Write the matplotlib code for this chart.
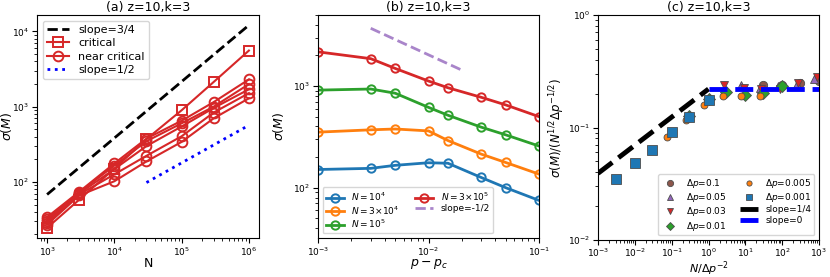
import numpy as np
import matplotlib
matplotlib.use('Agg')
import matplotlib.pyplot as plt

# (a) sigma(M) vs N
N_a = [1e3, 3e3, 1e4, 3e4, 1e5, 3e5, 1e6]
crit = [24.5, 58, 150, 370, 895, 2130, 5560]
near = [
    [34, 74, 176, 376, 650, 1150, 2300],
    [32, 72, 165, 347, 600, 1000, 1990],
    [30, 70, 148, 299, 545, 960, 1700],
    [28, 68, 126, 222, 404, 835, 1510],
    [27, 66, 102, 187, 340, 700, 1290],
]
slope34_x = [1e3, 1e6]
slope34_y = [68, 12100]
slope12_x = [3e4, 1e6]
slope12_y = [98, 566]

# (b) sigma(M) vs p - p_c
dp_b = [1e-3, 3e-3, 5e-3, 1e-2, 1.5e-2, 3e-2, 5e-2, 1e-1]
sig_b = {
    r'$N=10^4$': [151, 155, 166, 176, 174, 126, 100, 75],
    r'$N=3{\times}10^4$': [352, 371, 378, 362, 291, 214, 177, 136],
    r'$N=10^5$': [912, 935, 850, 617, 516, 394, 331, 257],
    r'$N=3{\times}10^5$': [2170, 1860, 1490, 1120, 962, 775, 652, 500],
}
slope_b_x = [3e-3, 2e-2]
slope_b_y = [3700, 1435]

# (c) scaling collapse
N_c = [3e3, 1e4, 3e4, 1e5, 3e5, 1e6]
dps = [0.1, 0.05, 0.03, 0.01, 0.005, 0.001]
y_c = {
    0.1: [0.240, 0.237, 0.248, 0.257],
    0.05: [0.240, 0.224, 0.232, 0.245, 0.270],
    0.03: [0.237, 0.224, 0.220, 0.222, 0.248, 0.280],
    0.01: [0.127, 0.180, 0.206, 0.196, 0.203, 0.232],
    0.005: [0.0827, 0.116, 0.157, 0.190, 0.192, 0.192],
    0.001: [0.0349, 0.0486, 0.0635, 0.0903, 0.125, 0.175],
}
markers_c = {0.1: 'o', 0.05: '^', 0.03: 'v', 0.01: 'D', 0.005: 'o', 0.001: 's'}
colors_c = {0.1: 'C5', 0.05: 'C4', 0.03: 'C3', 0.01: 'C2', 0.005: 'C1', 0.001: 'C0'}
sizes_c = {0.1: 6, 0.05: 6, 0.03: 6, 0.01: 6, 0.005: 5, 0.001: 6.5}

plt.rcParams['font.size'] = 9
plt.rcParams['xtick.labelsize'] = 6.5
plt.rcParams['ytick.labelsize'] = 6.5
plt.rcParams['xtick.major.pad'] = 2
plt.rcParams['ytick.major.pad'] = 2
plt.rcParams['axes.labelsize'] = 9
fig = plt.figure(figsize=(8.3, 2.77), dpi=100)
W, H = 830.0, 277.0
def box(l, r, t, b):
    return [l / W, (H - b) / H, (r - l) / W, (b - t) / H]

ax_a = fig.add_axes(box(37, 259, 15, 238))
ax_b = fig.add_axes(box(318, 539, 15, 238))
ax_c = fig.add_axes(box(598, 819, 15, 240))

# panel a
ax_a.plot(slope34_x, slope34_y, 'k--', lw=2, label='slope=3/4')
ax_a.plot(N_a, crit, '-s', color='C3', mfc='none', ms=7, mew=1.4, lw=1.5, label='critical')
for i, row in enumerate(near):
    ax_a.plot(N_a, row, '-o', color='C3', mfc='none', ms=7, mew=1.4, lw=1.5,
              label='near critical' if i == 0 else None)
ax_a.plot(slope12_x, slope12_y, ':', color='b', lw=2, label='slope=1/2')
ax_a.set_xscale('log')
ax_a.set_yscale('log')
ax_a.set_xlabel('N')
ax_a.set_ylabel(r'$\sigma(M)$')
ax_a.xaxis.set_label_coords(0.5, -0.085)
ax_a.yaxis.set_label_coords(-0.105, 0.5)
ax_a.set_title('(a) z=10,k=3', fontsize=9, pad=3)
ax_a.legend(loc='upper left', fontsize=8, labelspacing=0.3)

# panel b
for k, (lab, vals) in enumerate(sig_b.items()):
    ax_b.plot(dp_b, vals, '-o', color='C%d' % k, mfc='none', ms=6, mew=1.4, lw=2, label=lab)
ax_b.plot(slope_b_x, slope_b_y, '--', color='C4', alpha=0.8, lw=2, label='slope=-1/2')
ax_b.set_xscale('log')
ax_b.set_yscale('log')
ax_b.set_xlim(1e-3, 1e-1)
ax_b.set_ylim(32, 5000)
ax_b.set_xlabel(r'$p-p_c$')
ax_b.set_ylabel(r'$\sigma(M)$')
ax_b.xaxis.set_label_coords(0.5, -0.085)
ax_b.yaxis.set_label_coords(-0.145, 0.5)
ax_b.set_title('(b) z=10,k=3', fontsize=9, pad=3)
ax_b.legend(loc='lower left', ncol=2, fontsize=6.5, labelspacing=0.15, columnspacing=1.8,
            borderpad=0.35)

# panel c
for dp in dps:
    ys = y_c[dp]
    xs = [n * dp ** 2 for n in N_c[:len(ys)]]
    ax_c.plot(xs, ys, linestyle='none', marker=markers_c[dp], color=colors_c[dp],
              mec='0.3', mew=0.6, ms=sizes_c[dp], label=r'$\Delta p$=%g' % dp)
xl = np.array([1e-3, 1.0])
ax_c.plot(xl, 0.22 * xl ** 0.25, 'k--', lw=3.5, label='slope=1/4')
ax_c.plot([1.0, 1e3], [0.22, 0.22], '--', color='b', lw=3.5, label='slope=0')
ax_c.set_xscale('log')
ax_c.set_yscale('log')
ax_c.set_xlim(1e-3, 1e3)
ax_c.set_ylim(1e-2, 1)
ax_c.tick_params(axis='x', pad=1)
ax_c.set_xlabel(r'$N/\Delta p^{-2}$', fontsize=8)
ax_c.set_ylabel(r'$\sigma(M)/(N^{1/2}\Delta p^{-1/2})$', fontsize=8.5)
ax_c.xaxis.set_label_coords(0.5, -0.085)
ax_c.yaxis.set_label_coords(-0.14, 0.5)
ax_c.set_title('(c) z=10,k=3', fontsize=9, pad=3)
ax_c.legend(loc='lower right', ncol=2, fontsize=6.5, labelspacing=0.15, columnspacing=1.5,
            handletextpad=0.8, borderpad=0.3, markerscale=0.75)

fig.savefig('out.png', dpi=100)
